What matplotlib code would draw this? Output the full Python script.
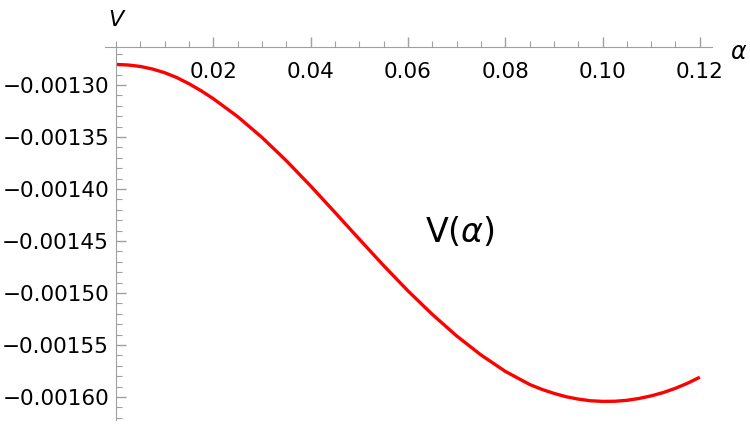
import numpy as np
import matplotlib
matplotlib.use("Agg")
import matplotlib.pyplot as plt
from matplotlib.ticker import MultipleLocator, FuncFormatter

# values
alpha = [0.0, 0.0025, 0.005, 0.0075, 0.010, 0.0125, 0.015, 0.0175, 0.020,
         0.025, 0.030, 0.035, 0.040, 0.045, 0.050, 0.055, 0.060, 0.065,
         0.070, 0.075, 0.080, 0.085, 0.0875, 0.090, 0.0925, 0.095, 0.0975,
         0.100, 0.1025, 0.105, 0.1075, 0.110, 0.1125, 0.115, 0.1175, 0.120]
V = [-0.0012803, -0.0012808, -0.0012822, -0.0012847, -0.0012882, -0.0012929,
     -0.0012988, -0.0013056, -0.0013132, -0.0013304, -0.0013504, -0.0013728,
     -0.0013971, -0.0014225, -0.0014482, -0.0014736, -0.0014979, -0.0015205,
     -0.0015412, -0.0015595, -0.0015753, -0.0015879, -0.0015926, -0.0015965,
     -0.0015997, -0.0016020, -0.0016036, -0.0016042, -0.0016041, -0.0016032,
     -0.0016014, -0.0015989, -0.0015957, -0.0015916, -0.0015867, -0.0015810]
x_ticks = [0.02, 0.04, 0.06, 0.08, 0.10, 0.12]
y_ticks = [-0.00130, -0.00135, -0.00140, -0.00145, -0.00150, -0.00155, -0.00160]

plt.rcParams['font.family'] = ['DejaVu Sans']
plt.rcParams['mathtext.fontset'] = 'dejavusans'

fig = plt.figure(figsize=(7.5, 4.28), dpi=100)
ax = fig.add_axes([0.14, 0.0187, 0.8093, 0.8715])

ax.plot(alpha, V, color='#ff0000', lw=2.4, solid_capstyle='butt',
        solid_joinstyle='round')

ax.set_xlim(-0.00226, 0.1225)
ax.set_ylim(-0.0016221, -0.0012635)

grey = '#a0a0a0'
for s in ['top', 'right']:
    ax.spines[s].set_visible(False)
ax.spines['bottom'].set_position(('axes', 1.0))
ax.spines['left'].set_position(('data', 0.0))
ax.spines['bottom'].set_color(grey)
ax.spines['left'].set_color(grey)

ax.xaxis.set_major_locator(plt.FixedLocator(x_ticks))
ax.xaxis.set_minor_locator(MultipleLocator(0.005))
ax.xaxis.set_major_formatter(FuncFormatter(lambda v, p: f"{v:.2f}"))
ax.yaxis.set_major_locator(plt.FixedLocator(y_ticks))
ax.yaxis.set_minor_locator(MultipleLocator(0.00001))
ax.yaxis.set_major_formatter(FuncFormatter(lambda v, p: f"\u2212{abs(v):.5f}"))

ax.tick_params(which='both', direction='in', color=grey, labelsize=15.5,
               labelcolor='black')
ax.tick_params(which='major', length=7, width=1)
ax.tick_params(which='minor', length=4, width=0.8)
ax.tick_params(axis='x', which='both', pad=11)
ax.tick_params(axis='y', which='both', pad=5)

# axis names
ax.text(0.0, 1.045, "V", transform=ax.get_xaxis_transform(), fontsize=16,
        style='italic', ha='center', va='bottom', clip_on=False)
ax.annotate(r"$\alpha$", xy=(1.0, 1.0), xycoords='axes fraction',
            xytext=(13, -3.5), textcoords='offset points', fontsize=17,
            ha='left', va='center', annotation_clip=False)
ax.text(0.0707, -0.0014413, r"$\mathrm{V}(\alpha)$", fontsize=24,
        ha='center', va='center')

fig.savefig("out.png", dpi=100)
